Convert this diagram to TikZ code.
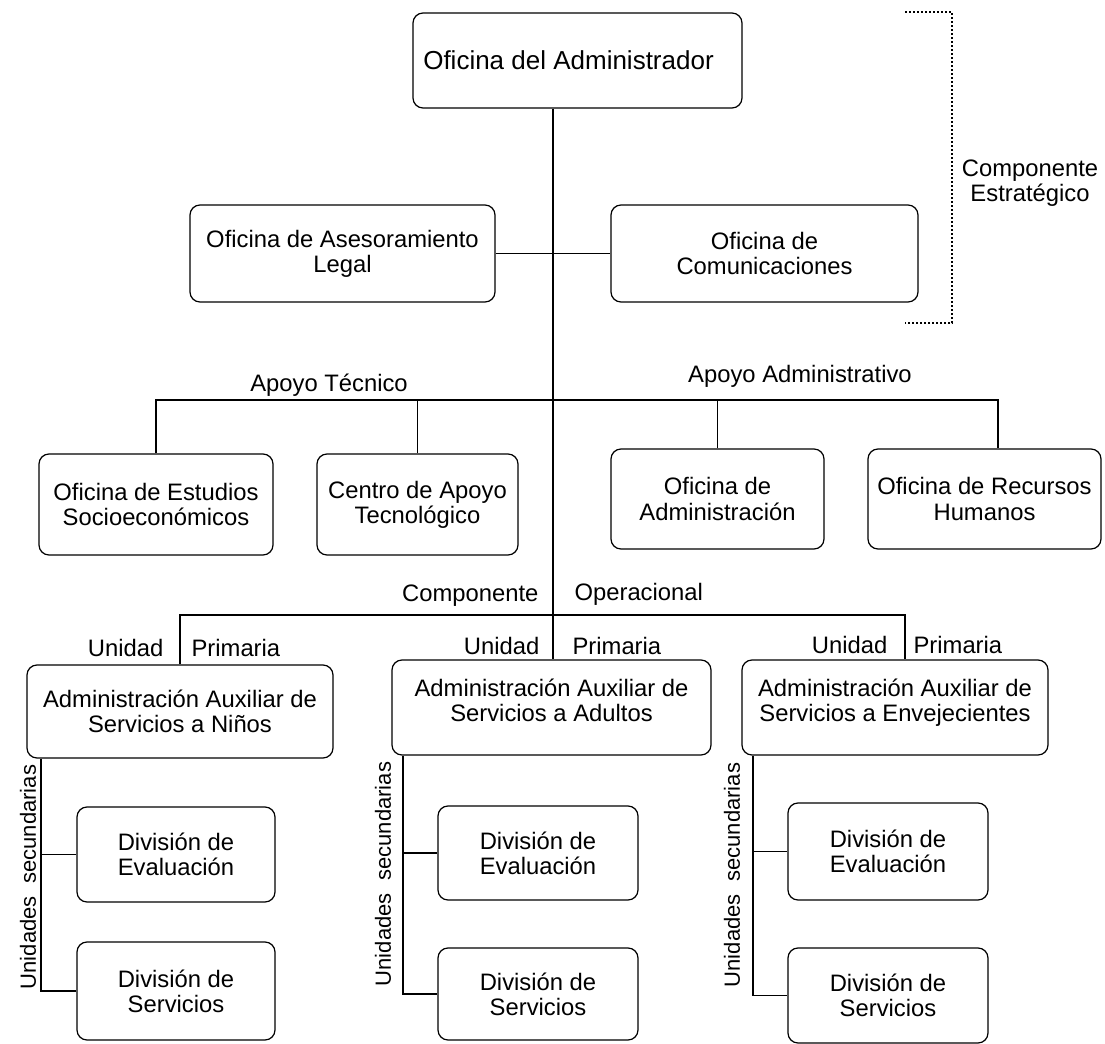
\documentclass[tikz,border=0pt]{standalone}
\usepackage{fontspec}
\setmainfont{Liberation Sans}
\usetikzlibrary{positioning}

\tikzset{
  caja/.style 2 args={draw, rounded corners=5pt, align=center, inner sep=1pt,
    minimum width=#1*0.5pt, minimum height=#2*0.5pt,
    font=\fontsize{11.9}{12.6}\selectfont},
  rotulo/.style={inner sep=0pt, align=center, font=\fontsize{11.9}{12.4}\selectfont},
  vertical/.style={rotulo, rotate=90, font=\fontsize{11}{12}\selectfont},
  corchete/.style={densely dotted, line width=1pt}
}

\begin{document}
\begin{tikzpicture}[x=0.5pt, y=-0.5pt, line width=0.6pt]
\useasboundingbox (0,0) rectangle (1105,1044);

\node[caja={329}{95}, font=\fontsize{13}{15}\selectfont] (admin) at (577.5,60.5) {Oficina del Administrador\hspace*{9pt}};
\node[caja={305}{97}] (legal) at (342.5,253.5) {Oficina de Asesoramiento\\Legal};
\node[caja={307}{97}] (comun) at (764.5,253.5) {Oficina de\\Comunicaciones};

\node[caja={234}{101}] (estud) at (156,504.5) {Oficina de Estudios\\Socioeconómicos};
\node[caja={201}{101}] (ctec) at (417.5,504.5) {Centro de Apoyo\\Tecnológico};
\node[caja={213}{100}] (admon) at (717.5,499) {Oficina de\\Administración};
\node[caja={233}{100}] (rrhh) at (984.5,499) {Oficina de Recursos\\Humanos};

\node[caja={306}{93}] (ninos) at (180,711.5) {Administración Auxiliar de\\Servicios a Niños};
\node[caja={319}{95}] (adultos) at (551.5,707.5) {Administración Auxiliar de\\Servicios a Adultos\\[-5.6pt]};
\node[caja={306}{95}] (envej) at (895,707.5) {Administración Auxiliar de\\Servicios a Envejecientes\\[-5.6pt]};

\node[caja={198}{95}] (eval1) at (176,854.5) {División de\\Evaluación};
\node[caja={198}{98}] (serv1) at (176,991) {División de\\Servicios};
\node[caja={200}{94}] (eval2) at (538,853) {División de\\Evaluación};
\node[caja={200}{92}] (serv2) at (538,994) {División de\\Servicios};
\node[caja={200}{97}] (eval3) at (888,851.5) {División de\\Evaluación};
\node[caja={200}{95}] (serv3) at (888,995.5) {División de\\Servicios};

\coordinate (eje) at (553,108);
\coordinate (brh) at (998,400);
\coordinate (bop) at (905,615);
\coordinate (r1) at (41,0);
\coordinate (r2) at (403,0);
\coordinate (r3) at (753,0);

\draw (eje |- admin.south) -- (eje |- adultos.north);
\draw (legal.east) -- (comun.west);
\draw (estud.north) |- (brh) -- (brh |- rrhh.north);
\draw (ctec.north) -- (ctec.north |- brh);
\draw (admon.north) -- (admon.north |- brh);
\draw (ninos.north) |- (bop) -- (bop |- envej.north);

\draw (r1 |- ninos.south) |- (serv1.west);
\draw (r1 |- eval1.west) -- (eval1.west);
\draw (r2 |- adultos.south) |- (serv2.west);
\draw (r2 |- eval2.west) -- (eval2.west);
\draw (r3 |- envej.south) |- (serv3.west);
\draw (r3 |- eval3.west) -- (eval3.west);

\draw[corchete] (905,12) -- (952,12) -- (952,323) -- (905,323);
\node[rotulo] (estrat) at (1030,183) {Componente\\Estratégico};

\node[rotulo] (atec) at (329,385) {Apoyo Técnico};
\node[rotulo] (aadm) at (800,376) {Apoyo Administrativo};
\node[rotulo, anchor=east] (comp) at (539,596) {Componente};
\node[rotulo, anchor=west] (oper) at (574,594) {Operacional};

\node[rotulo, anchor=east] (un1) at (164,648) {Unidad};
\node[rotulo, anchor=west] (pr1) at (191,648) {Primaria};
\node[rotulo, anchor=east] (un2) at (540,646) {Unidad};
\node[rotulo, anchor=west] (pr2) at (572,646) {Primaria};
\node[rotulo, anchor=east] (un3) at (888,645) {Unidad};
\node[rotulo, anchor=west] (pr3) at (913,645) {Primaria};

\node[vertical] (us1) at (28,877) {Unidades\hspace{0.3em} secundarias};
\node[vertical] (us2) at (383,874) {Unidades\hspace{0.3em} secundarias};
\node[vertical] (us3) at (732,875) {Unidades\hspace{0.3em} secundarias};
\end{tikzpicture}
\end{document}
